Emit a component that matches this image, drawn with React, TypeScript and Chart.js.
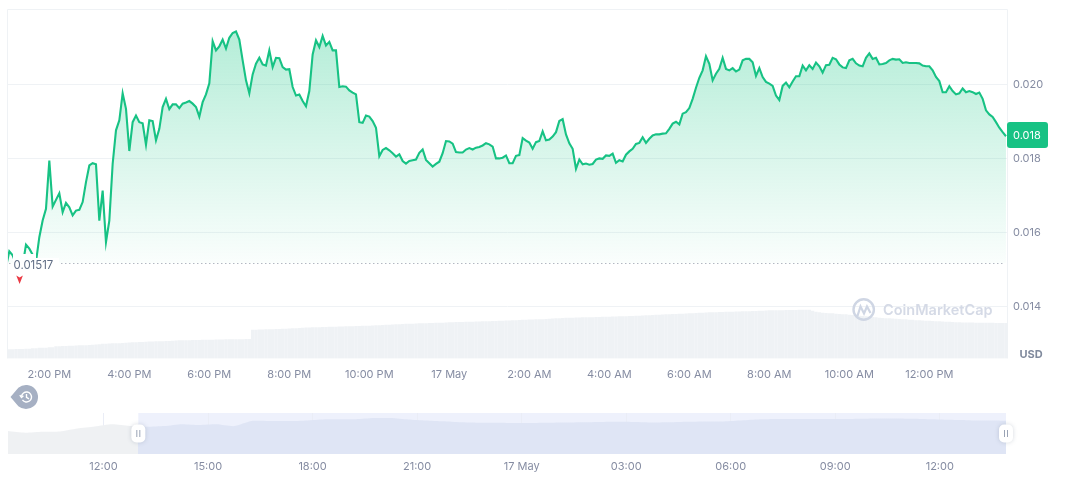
import React, { useEffect, useRef } from "react";
import { Chart, registerables } from "chart.js";

Chart.register(...registerables);

const FONT = "Inter";
const GREEN = "#17C284";
const GRID = "#EFF2F5";
const TEXT = "#858CA2";

const BASE_PRICE = 0.01517;
const CURRENT_LABEL = "0.018";
const PRICE_TICKS = [0.014, 0.016, 0.018, 0.02];
const TIME_TICKS = [14, 16, 18, 20, 22, 24, 26, 28, 30, 32, 34, 36];
const TIME_LABELS = ["2:00 PM", "4:00 PM", "6:00 PM", "8:00 PM", "10:00 PM", "17 May", "2:00 AM", "4:00 AM", "6:00 AM", "8:00 AM", "10:00 AM", "12:00 PM"];
const NAV_TICKS = [12, 15, 18, 21, 24, 27, 30, 33, 36];
const NAV_LABELS = ["12:00", "15:00", "18:00", "21:00", "17 May", "03:00", "06:00", "09:00", "12:00"];

// one price every 5 minutes, first one at 12:55
const prices = [
  0.01507, 0.0155, 0.01539, 0.01516, 0.01512, 0.01512, 0.01568, 0.01557, 0.01541, 0.01521,
  0.01588, 0.01633, 0.01665, 0.01795, 0.01671, 0.01689, 0.01707, 0.01656, 0.01681, 0.01669,
  0.01647, 0.0166, 0.01662, 0.01683, 0.01737, 0.01782, 0.01788, 0.01785, 0.01633, 0.01714,
  0.01575, 0.01633, 0.01786, 0.01877, 0.01904, 0.01977, 0.01935, 0.01821, 0.01899, 0.01917,
  0.01899, 0.01896, 0.01838, 0.01904, 0.01902, 0.0185, 0.01881, 0.0194, 0.01962, 0.01934,
  0.01947, 0.01947, 0.01937, 0.01949, 0.01952, 0.01956, 0.01949, 0.0194, 0.01914, 0.01953,
  0.01974, 0.02004, 0.02118, 0.02093, 0.02104, 0.02122, 0.02098, 0.02127, 0.0214, 0.02144,
  0.02122, 0.02066, 0.02012, 0.01977, 0.02028, 0.02057, 0.02073, 0.02055, 0.02052, 0.02093,
  0.02048, 0.02073, 0.02072, 0.02048, 0.02041, 0.02042, 0.01994, 0.01971, 0.01974, 0.01956,
  0.01942, 0.01983, 0.02082, 0.0212, 0.02102, 0.02132, 0.02106, 0.02116, 0.02093, 0.02093,
  0.01994, 0.01996, 0.01995, 0.01985, 0.01979, 0.01974, 0.01899,
  0.01897, 0.01917, 0.01914, 0.01902, 0.01884, 0.01807, 0.01824, 0.01829, 0.01823, 0.01815,
  0.01806, 0.01812, 0.01794, 0.01787, 0.01794, 0.01796, 0.01798, 0.01816, 0.01825, 0.01797,
  0.01788, 0.01779, 0.01786, 0.01792, 0.01815, 0.01848, 0.01847, 0.01841, 0.01818, 0.01817,
  0.01817, 0.01825, 0.01829, 0.01825, 0.0183, 0.01832, 0.01836, 0.01842, 0.01839, 0.01833,
  0.01801, 0.01801, 0.01803, 0.01809, 0.01788, 0.01788, 0.01808, 0.0181, 0.01856, 0.01849,
  0.01844, 0.01827, 0.01845, 0.01848, 0.01874, 0.0185, 0.01852, 0.0186, 0.01872, 0.01902,
  0.01907, 0.01866, 0.01842, 0.01827, 0.01773, 0.01798, 0.01785, 0.01787, 0.01784, 0.01786,
  0.01798, 0.01801, 0.018, 0.01809, 0.01808, 0.01814, 0.01789, 0.01796, 0.01793, 0.01811,
  0.0182, 0.01827, 0.0184, 0.01843, 0.01858, 0.01843, 0.01854, 0.01863, 0.01866, 0.01866,
  0.01868, 0.01869, 0.01881, 0.01895, 0.019, 0.01893, 0.01922, 0.01926, 0.01937, 0.01962,
  0.01992, 0.02019, 0.02039, 0.02077, 0.02057,
  0.02012, 0.0203, 0.02043, 0.02073, 0.02043, 0.02039, 0.02045, 0.02036, 0.02041, 0.02066,
  0.0207, 0.0207, 0.02061, 0.02024, 0.02045, 0.02021, 0.02008, 0.02003, 0.01997, 0.01971,
  0.01959, 0.01997, 0.02006, 0.01993, 0.02009, 0.02023, 0.02023, 0.02052, 0.02039, 0.02053,
  0.02043, 0.0206, 0.0205, 0.02033, 0.02053, 0.02054, 0.02073, 0.02069, 0.02055, 0.02047,
  0.02045, 0.02066, 0.0207, 0.02058, 0.02052, 0.0205, 0.02073, 0.02085, 0.0207, 0.02073,
  0.02055, 0.02056, 0.02059, 0.02066, 0.0207, 0.02068, 0.02069, 0.02059, 0.02061, 0.02059,
  0.02059, 0.02059, 0.02058, 0.02052, 0.0205, 0.0205, 0.02039, 0.02021, 0.0201, 0.0198,
  0.0198, 0.01996, 0.01983, 0.01974, 0.01977, 0.0199, 0.0198, 0.01983, 0.0198, 0.01975,
  0.01979, 0.01962, 0.01931, 0.0192, 0.01913, 0.01899, 0.01884, 0.01872, 0.01861,
];

// rolling volume in arbitrary display units, one bar per price
const volumes = [
  9, 9, 9, 9.2, 9.2, 9.2, 9.3, 9.3,
  10, 10, 10.3, 10.5, 10.5, 10.8, 11,
  12, 12, 12.2, 12.2, 12.4, 12.4, 12.6, 12.8, 13, 13, 13.2, 13.4, 13.6, 13.8,
  14.5, 14.5, 14.6, 14.8, 15, 15, 15.2, 15.4, 15.6,
  16, 16, 16.2, 16.2, 16.4, 16.6, 16.6, 16.8, 17, 17, 17.2, 17.2, 17.4, 17.6, 17.8,
  18, 18, 18, 18.1, 18.2, 18.2, 18.3, 18.4, 18.4, 18.5, 18.6, 18.6, 18.7, 18.8, 18.8, 18.9, 19, 19, 19, 19.1, 19.2,
  28.5, 28.5, 28.6, 28.7, 28.8, 28.9, 29, 29.1, 29.2, 29.4, 29.5, 29.7, 29.8, 30, 30.2,
  30.5, 30.6, 30.7, 30.8, 31, 31, 31.1, 31.2, 31.3, 31.4, 31.5, 31.6, 31.7, 31.8, 31.9, 32, 32.1, 32.2, 32.3, 32.4, 32.5,
  32.7, 32.8, 33, 33.2, 33.4, 33.5, 33.7, 33.9, 34,
  34.2, 34.3, 34.4, 34.5, 34.7, 34.8, 34.9, 35, 35.1, 35.2, 35.3, 35.4, 35.5, 35.7, 35.8,
  36, 36.1, 36.1, 36.2, 36.3, 36.4, 36.5, 36.6, 36.7,
  36.8, 36.9, 37, 37.1, 37.2, 37.3, 37.5, 37.6, 37.7, 37.9, 38, 38.2,
  38.4, 38.5, 38.6, 38.7, 38.8, 38.9, 39, 39.2, 39.4, 39.6, 39.8, 40,
  40.2, 40.3, 40.4, 40.5, 40.6, 40.7, 40.8, 40.9, 41, 41, 41.1, 41.2, 41.3, 41.4, 41.5, 41.6, 41.7, 41.8, 41.9, 42, 42.1, 42.2, 42.4, 42.5,
  42.6, 42.8, 43, 43.2, 43.3, 43.5, 43.6, 43.8, 44, 44.1, 44.2, 44.4, 44.5, 44.7, 44.8, 45, 45.1, 45.3, 45.4, 45.6, 45.8,
  45.9, 46, 46.1, 46.2, 46.3, 46.4, 46.5, 46.6, 46.7, 46.8, 46.9, 47, 47.1, 47.2, 47.4, 47.5, 47.7, 47.8,
  47.9, 47.9, 48, 48, 48.1, 48.1, 48.2, 48.2, 48.3, 48.3, 48.4, 48.5,
  47.5, 46.5, 45.8,
  45.5, 45.2, 45, 44.8, 44.5, 44.2, 44, 43.8, 43.5,
  43.2, 42.9, 42.5, 42.2, 42, 41.6, 41.2, 40.8, 40.5,
  40.2, 40, 39.8, 39.6, 39.4, 39.2, 39, 38.8, 38.5, 38.3, 38, 37.8,
  37.6, 37.4, 37.3, 37.1, 37, 36.8, 36.6, 36.4, 36.3, 36.1, 36, 35.8,
  35.7, 35.7, 35.6, 35.6, 35.5, 35.5, 35.4, 35.4, 35.3, 35.3, 35.2, 35.2,
  35.2, 35.2,
];

// navigator series, one value every half hour from about 09:15
const navPrices = [
  0.01311, 0.01214, 0.01271, 0.01283, 0.01454, 0.01568, 0.01693, 0.01596, 0.01556, 0.01596,
  0.01699, 0.01653, 0.01693, 0.01590, 0.01881, 0.01881, 0.01881, 0.01898, 0.01967, 0.01978,
  0.01984, 0.02052, 0.02052, 0.01967, 0.0191, 0.01864, 0.01807, 0.01784, 0.01778, 0.01767,
  0.01767, 0.01778, 0.0179, 0.01807, 0.01824, 0.01835, 0.01824, 0.01796, 0.01807, 0.01835,
  0.01853, 0.01853, 0.0191, 0.01967, 0.01995, 0.01995, 0.01995, 0.01995, 0.01995, 0.02012,
  0.02024, 0.02024, 0.02006, 0.01978, 0.01949, 0.01927, 0.01904, 0.01898, 0.0189,
];

const priceXY = prices.map((y, i) => ({ x: 13 + (i - 1) / 12, y }));
const volumeXY = volumes.slice(0, prices.length).map((y, i) => ({ x: 13 + (i - 1) / 12, y }));
const navXY = navPrices.map((y, i) => ({ x: 9.25 + i / 2, y }));

function roundRect(ctx: CanvasRenderingContext2D, x: number, y: number, w: number, h: number, r: number) {
  ctx.beginPath();
  ctx.roundRect(x, y, w, h, r);
}

const framePlugin = {
  id: "frame",
  beforeDatasetsDraw(chart: any) {
    const { ctx, chartArea: a } = chart;
    ctx.save();
    ctx.strokeStyle = GRID;
    ctx.lineWidth = 1;
    ctx.beginPath();
    ctx.moveTo(7.5, 358.5);
    ctx.lineTo(7.5, 9.5);
    ctx.lineTo(a.right + 0.5, 9.5);
    ctx.lineTo(a.right + 0.5, 358.5);
    ctx.stroke();
    ctx.restore();
  },
};

const overlayPlugin = {
  id: "overlay",
  afterDraw(chart: any) {
    const { ctx, scales } = chart;
    ctx.save();
    const baseY = scales.y.getPixelForValue(BASE_PRICE);
    // base price label with its white backing
    ctx.fillStyle = "#FFFFFF";
    ctx.fillRect(13, baseY - 9.5, 23, 5);
    ctx.fillRect(13, baseY - 5.5, 46, 14);
    ctx.fillStyle = "#616E85";
    ctx.font = `11.4px ${FONT}`;
    ctx.textAlign = "left";
    ctx.textBaseline = "middle";
    ctx.fillText(String(BASE_PRICE), 13.5, baseY + 2);
    // red arrow
    ctx.fillStyle = "#EA3943";
    ctx.beginPath();
    ctx.moveTo(16.3, 275.5);
    ctx.lineTo(19.6, 277.5);
    ctx.lineTo(22.9, 275.5);
    ctx.lineTo(19.6, 284);
    ctx.closePath();
    ctx.fill();
    // current price badge
    ctx.fillStyle = GREEN;
    roundRect(ctx, 1007, 122, 41, 26, 3);
    ctx.fill();
    ctx.fillStyle = "#FFFFFF";
    ctx.font = `11px ${FONT}`;
    ctx.fillText(CURRENT_LABEL, 1013, 135.5);
    // unit
    ctx.fillStyle = "#808A9D";
    ctx.font = `bold 11px ${FONT}`;
    ctx.fillText("USD", 1019.5, 354.5);
    // watermark
    ctx.strokeStyle = "#CFD6E4";
    ctx.lineWidth = 2.4;
    ctx.beginPath();
    ctx.arc(863.7, 309.5, 10.2, 0, Math.PI * 2);
    ctx.stroke();
    ctx.lineWidth = 2.2;
    ctx.beginPath();
    ctx.moveTo(857.5, 316);
    ctx.lineTo(860.5, 306.5);
    ctx.lineTo(864, 313.5);
    ctx.lineTo(867, 306.5);
    ctx.lineTo(870.5, 313);
    ctx.stroke();
    ctx.fillStyle = "#D5DAE6";
    ctx.font = `600 14.5px ${FONT}`;
    ctx.fillText("CoinMarketCap", 883, 311);
    ctx.restore();
  },
};

const navPlugin = {
  id: "nav",
  beforeDraw(chart: any) {
    const { ctx, chartArea: a, scales } = chart;
    const sx = scales.x.getPixelForValue(13);
    ctx.save();
    ctx.fillStyle = "#EEF1FC";
    ctx.fillRect(sx, a.top, a.right - sx, a.bottom - a.top);
    ctx.restore();
  },
  afterDraw(chart: any) {
    const { ctx, chartArea: a, scales } = chart;
    ctx.save();
    const handle = (cx: number) => {
      ctx.save();
      ctx.shadowColor = "rgba(88,102,126,0.25)";
      ctx.shadowBlur = 4;
      ctx.fillStyle = "#FFFFFF";
      roundRect(ctx, cx - 7, 44.5, 14, 18, 5);
      ctx.fill();
      ctx.restore();
      ctx.strokeStyle = "#9AA3B5";
      ctx.lineWidth = 1;
      ctx.beginPath();
      ctx.moveTo(cx - 1.5, 50);
      ctx.lineTo(cx - 1.5, 57);
      ctx.moveTo(cx + 1.5, 50);
      ctx.lineTo(cx + 1.5, 57);
      ctx.stroke();
    };
    handle(scales.x.getPixelForValue(13));
    handle(a.right);
    // history bubble
    ctx.fillStyle = "#A6B0C3";
    ctx.beginPath();
    ctx.arc(26, 17, 12, -Math.PI * 0.72, Math.PI * 0.72);
    ctx.lineTo(10.5, 17);
    ctx.closePath();
    ctx.fill();
    ctx.strokeStyle = "#FFFFFF";
    ctx.lineWidth = 1.4;
    ctx.beginPath();
    ctx.arc(26.5, 17, 5, -Math.PI * 0.95, Math.PI * 0.8);
    ctx.stroke();
    ctx.beginPath();
    ctx.moveTo(26.5, 14);
    ctx.lineTo(26.5, 17.4);
    ctx.lineTo(29, 18.8);
    ctx.moveTo(19.8, 15.2);
    ctx.lineTo(21.5, 17.5);
    ctx.lineTo(23.4, 15.8);
    ctx.stroke();
    ctx.restore();
  },
};

export default function App() {
  const mainRef = useRef<HTMLCanvasElement | null>(null);
  const navRef = useRef<HTMLCanvasElement | null>(null);

  useEffect(() => {
    const fillGradient = (context: any) => {
      const { chart } = context;
      if (!chart.chartArea) return "rgba(22,199,132,0.1)";
      const y = chart.scales.y;
      const g = chart.ctx.createLinearGradient(0, y.getPixelForValue(0.0215), 0, y.getPixelForValue(BASE_PRICE));
      g.addColorStop(0, "rgba(22,199,132,0.32)");
      g.addColorStop(1, "rgba(22,199,132,0.02)");
      return g;
    };

    const main = new Chart(mainRef.current as HTMLCanvasElement, {
      type: "line",
      data: {
        datasets: [
          {
            type: "line",
            data: priceXY,
            borderColor: GREEN,
            borderWidth: 2.1,
            pointRadius: 0,
            tension: 0,
            yAxisID: "y",
            order: 1,
            backgroundColor: fillGradient,
            fill: { target: { value: BASE_PRICE }, above: fillGradient, below: "rgba(22,199,132,0)" },
          },
          {
            type: "line",
            data: [
              { x: 12.9, y: BASE_PRICE },
              { x: 37.9, y: BASE_PRICE },
            ],
            borderColor: "#8E95A5",
            borderWidth: 1,
            borderDash: [1, 3],
            pointRadius: 0,
            fill: false,
            yAxisID: "y",
            order: 2,
          },
          {
            type: "bar",
            data: volumeXY,
            backgroundColor: GRID,
            barThickness: 2.7,
            borderWidth: 0,
            yAxisID: "yVol",
            order: 3,
          },
        ],
      } as any,
      options: {
        animation: false,
        responsive: false,
        maintainAspectRatio: false,
        events: [],
        layout: { padding: { left: 8, top: 9.5, right: 0, bottom: 0 } },
        plugins: { legend: { display: false }, tooltip: { enabled: false }, title: { display: false } },
        scales: {
          x: {
            type: "linear",
            position: "bottom",
            offset: false,
            min: 12.967,
            max: 37.942,
            grid: { display: false, drawTicks: false, offset: false },
            border: { display: false },
            afterBuildTicks: (s: any) => {
              s.ticks = TIME_TICKS.map((value) => ({ value }));
            },
            afterFit: (s: any) => {
              s.height = 21.5;
              s.paddingLeft = 0;
              s.paddingRight = 0;
            },
            ticks: {
              autoSkip: false,
              maxRotation: 0,
              padding: 10,
              color: TEXT,
              font: { family: FONT, size: 11 },
              callback: (v: any) => TIME_LABELS[TIME_TICKS.indexOf(v)],
            },
          },
          y: {
            type: "linear",
            position: "right",
            min: 0.012602,
            max: 0.022035,
            grid: { color: GRID, lineWidth: 1, drawTicks: false },
            border: { display: false },
            afterBuildTicks: (s: any) => {
              s.ticks = PRICE_TICKS.map((value) => ({ value }));
            },
            afterFit: (s: any) => {
              s.width = 65;
              s.paddingTop = 0;
              s.paddingBottom = 0;
            },
            ticks: {
              padding: 6,
              color: TEXT,
              font: { family: FONT, size: 11 },
              callback: (v: any) => Number(v).toFixed(3),
            },
          },
          yVol: { type: "linear", display: false, min: 0, max: 349 },
        },
      } as any,
      plugins: [framePlugin, overlayPlugin],
    });

    const navFill = (context: any) => {
      const { chart } = context;
      if (!chart.chartArea) return "#DFE5F5";
      const { left, right } = chart.chartArea;
      const stop = (chart.scales.x.getPixelForValue(13) - left) / (right - left);
      const g = chart.ctx.createLinearGradient(left, 0, right, 0);
      g.addColorStop(0, "#EFF1F3");
      g.addColorStop(stop, "#EFF1F3");
      g.addColorStop(stop, "#DFE5F5");
      g.addColorStop(1, "#DFE5F5");
      return g;
    };

    const nav = new Chart(navRef.current as HTMLCanvasElement, {
      type: "line",
      data: {
        datasets: [
          {
            data: navXY,
            borderWidth: 0,
            pointRadius: 0,
            tension: 0.2,
            backgroundColor: navFill,
            fill: "start",
          },
        ],
      } as any,
      options: {
        animation: false,
        responsive: false,
        maintainAspectRatio: false,
        events: [],
        layout: { padding: { left: 8, top: 33, right: 66, bottom: 0 } },
        plugins: { legend: { display: false }, tooltip: { enabled: false }, title: { display: false } },
        scales: {
          x: {
            type: "linear",
            min: 9.26,
            max: 37.9,
            grid: { color: "#EAEDF6", lineWidth: 1, drawTicks: false },
            border: { display: false },
            afterBuildTicks: (s: any) => {
              s.ticks = NAV_TICKS.map((value) => ({ value }));
            },
            afterFit: (s: any) => {
              s.height = 23;
              s.paddingLeft = 0;
              s.paddingRight = 0;
            },
            ticks: {
              autoSkip: false,
              maxRotation: 0,
              padding: 6,
              color: TEXT,
              font: { family: FONT, size: 11 },
              callback: (v: any) => NAV_LABELS[NAV_TICKS.indexOf(v)],
            },
          },
          y: { type: "linear", display: false, min: 0, max: 0.02337 },
        },
      } as any,
      plugins: [navPlugin],
    });

    return () => {
      main.destroy();
      nav.destroy();
    };
  }, []);

  return (
    <div style={{ position: "absolute", left: 0, top: 0, width: 1072, height: 477, background: "#FFFFFF", overflow: "hidden" }}>
      <canvas ref={mainRef} width={1072} height={380} style={{ position: "absolute", left: 0, top: 0, width: 1072, height: 380 }} />
      <canvas ref={navRef} width={1072} height={97} style={{ position: "absolute", left: 0, top: 380, width: 1072, height: 97 }} />
    </div>
  );
}
